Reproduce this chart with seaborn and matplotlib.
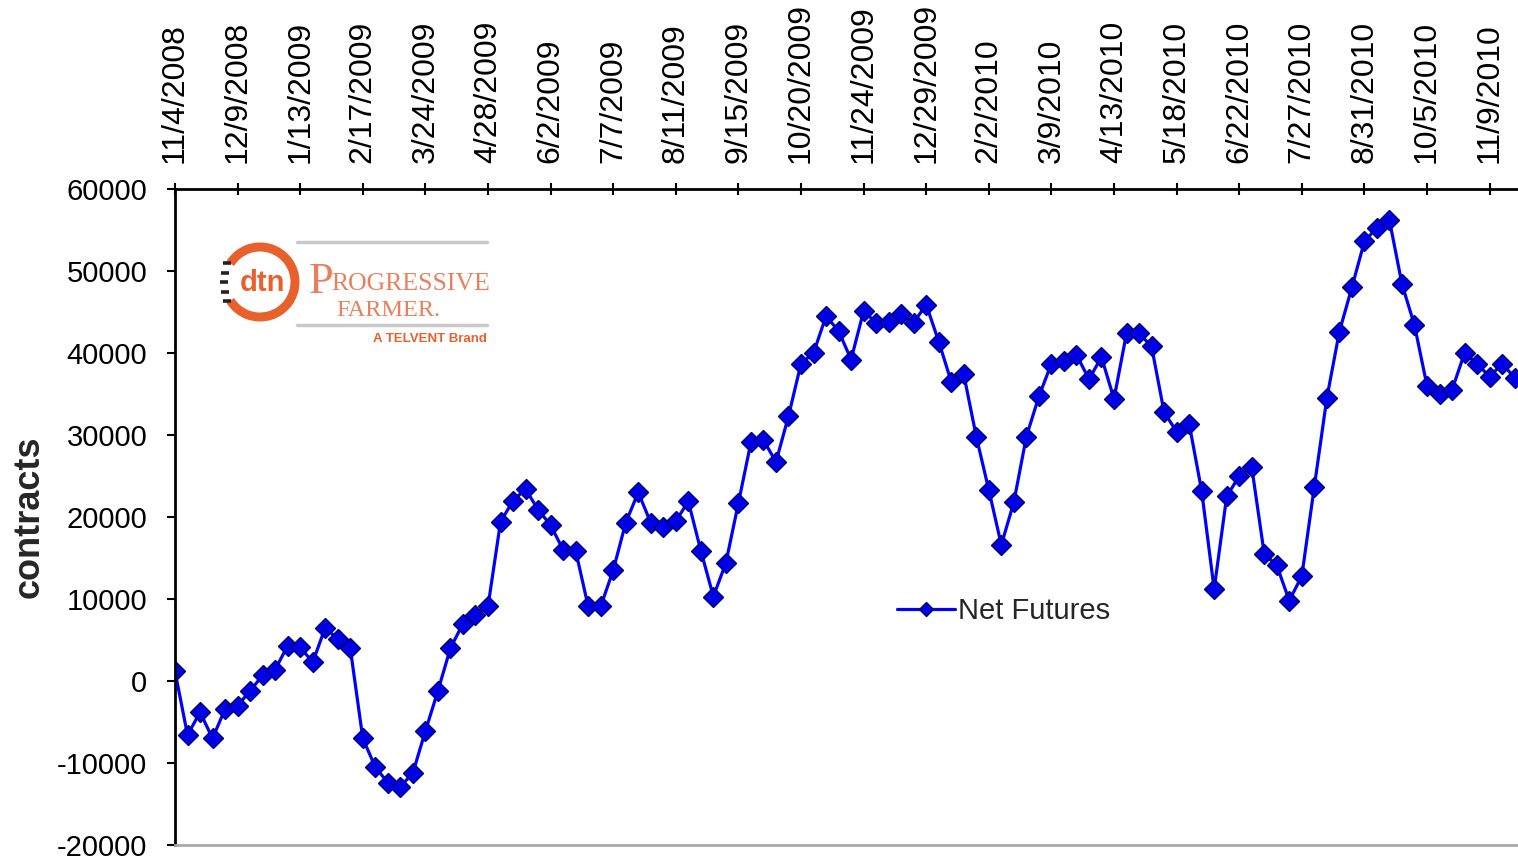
import matplotlib
matplotlib.use("Agg")
import matplotlib.pyplot as plt
from matplotlib.patches import Arc
import numpy as np
import pandas as pd
import seaborn as sns

# Weekly net futures position (contracts), first week = 11/4/2008
week_start = "2008-11-04"
net_futures = [
    1200, -6600, -3800, -7000, -3400, -3000, -1200, 700, 1400, 4300,
    4100, 2300, 6500, 5100, 4000, -7000, -10500, -12400, -12900, -11200,
    -6100, -1200, 4000, 7000, 8100, 9100, 19400, 22000, 23400, 20900,
    19000, 16000, 15900, 9100, 9100, 13500, 19300, 23000, 19300, 18800,
    19500, 21900, 15900, 10300, 14400, 21700, 29100, 29400, 26700, 32300,
    38700, 40000, 44500, 42700, 39200, 45100, 43700, 43800, 44800, 43700,
    45900, 41400, 36500, 37400, 29800, 23300, 16600, 21800, 29800, 34700,
    38700, 39000, 39800, 36800, 39500, 34400, 42400, 42400, 40800, 32800,
    30400, 31400, 23200, 11200, 22500, 25000, 26100, 15500, 14100, 9800,
    12800, 23700, 34500, 42600, 48000, 53600, 55300, 56200, 48400, 43400,
    36000, 35000, 35500, 40000, 38700, 37100, 38700, 37000,
]

tick_labels = [
    "11/4/2008", "12/9/2008", "1/13/2009", "2/17/2009", "3/24/2009",
    "4/28/2009", "6/2/2009", "7/7/2009", "8/11/2009", "9/15/2009",
    "10/20/2009", "11/24/2009", "12/29/2009", "2/2/2010", "3/9/2010",
    "4/13/2010", "5/18/2010", "6/22/2010", "7/27/2010", "8/31/2010",
    "10/5/2010", "11/9/2010",
]
y_ticks = [60000, 50000, 40000, 30000, 20000, 10000, 0, -10000, -20000]
series_name = "Net Futures"
y_title = "contracts"

df = pd.DataFrame({
    "date": pd.date_range(week_start, periods=len(net_futures), freq="7D"),
    "net": net_futures,
})
df["week"] = np.arange(len(df))

sns.set_style("white")
plt.rcParams["font.family"] = ["Liberation Sans", "DejaVu Sans"]
plt.rcParams["axes.unicode_minus"] = False

W, H = 1518, 860
fig = plt.figure(figsize=(W / 100, H / 100), dpi=100)
px_per_week = 12.52
n_weeks_axis = 110
ax = fig.add_axes([175 / W, 1 - 845 / H, n_weeks_axis * px_per_week / W, (845 - 189) / H])

sns.lineplot(
    data=df, x="week", y="net", ax=ax,
    color="#0000FF", linewidth=2.3,
    marker="D", markersize=10.5,
    markerfacecolor="#0000E6", markeredgecolor="#00007A", markeredgewidth=1.0,
    label=series_name,
)

ax.set_xlim(0, n_weeks_axis)
ax.set_ylim(-20000, 60000)
ax.set_yticks(y_ticks)
ax.set_yticklabels([str(v) for v in y_ticks], fontsize=21)

ax.xaxis.tick_top()
ax.set_xticks(np.arange(0, 5 * len(tick_labels), 5))
ax.set_xticklabels(tick_labels, rotation=90, fontsize=23)
ax.set_xlabel("")

ax.tick_params(axis="x", direction="inout", length=8, width=1.5, pad=15, colors="black")
ax.tick_params(axis="y", direction="out", length=6, width=1.5, pad=14, colors="black")
ax.tick_params(axis="y", left=True)
ax.tick_params(axis="x", top=True)

for side in ("top", "left"):
    ax.spines[side].set_color("black")
    ax.spines[side].set_linewidth(2)
ax.spines["bottom"].set_color("#A8A8A8")
ax.spines["bottom"].set_linewidth(2)
ax.spines["right"].set_visible(False)

ax.set_ylabel(y_title, fontsize=26, fontweight="bold")
ax.yaxis.set_label_coords((47 - 175) / (n_weeks_axis * px_per_week), 0.5)

leg = ax.legend(
    loc="center left", bbox_to_anchor=((897 - 175) / (n_weeks_axis * px_per_week), (845 - 611) / 656),
    frameon=False, fontsize=21, handlelength=2.0, handletextpad=0.1,
    borderpad=0, borderaxespad=0, markerscale=0.7,
)

# Publisher logo in the upper-left of the plot area (drawn in local pixel units)
lx0, ly0, lw, lh = 205, 225, 295, 125
lax = fig.add_axes([lx0 / W, 1 - (ly0 + lh) / H, lw / W, lh / H])
lax.set_xlim(0, lw)
lax.set_ylim(lh, 0)
lax.axis("off")
orange = "#E8612C"
salmon = "#E9805C"
cx, cy = 260 - lx0, 282 - ly0
lax.add_patch(Arc((cx, cy), 70, 70, theta1=-148, theta2=148, color=orange, lw=6.5))
for k, dy in enumerate([-19, -9.5, 0, 9.5, 19]):
    xs = cx - 40 + abs(dy) * 0.15
    lax.plot([xs, xs + 8], [cy + dy, cy + dy], color="#222222", lw=2.6, solid_capstyle="butt")
lax.text(cx + 2, cy + 1, "dtn", color=orange, fontsize=21, fontweight="bold",
         ha="center", va="center")
lax.plot([297 - lx0, 487 - lx0], [242 - ly0, 242 - ly0], color="#C9C9C9", lw=2.5)
lax.plot([297 - lx0, 487 - lx0], [325 - ly0, 325 - ly0], color="#C9C9C9", lw=2.5)
lax.text(309 - lx0, 293 - ly0, "P", family=["Liberation Serif", "DejaVu Serif"],
         color=salmon, fontsize=32, ha="left", va="baseline")
lax.text(331 - lx0, 290 - ly0, "ROGRESSIVE", family=["Liberation Serif", "DejaVu Serif"],
         color=salmon, fontsize=18.5, ha="left", va="baseline")
lax.text(336 - lx0, 316 - ly0, "FARMER.", family=["Liberation Serif", "DejaVu Serif"],
         color=salmon, fontsize=17.5, ha="left", va="baseline")
lax.text(487 - lx0, 342 - ly0, "A TELVENT Brand", color=orange, fontsize=9.5,
         fontweight="bold", ha="right", va="baseline")

fig.savefig("out.png", dpi=100, facecolor="white")
